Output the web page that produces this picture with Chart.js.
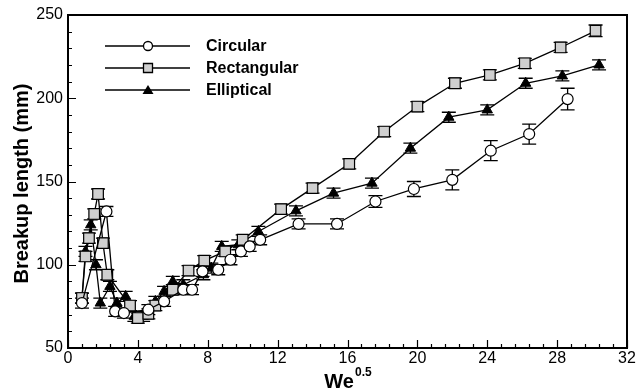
<!DOCTYPE html>
<html>
<head>
<meta charset="utf-8">
<script src="https://cdn.jsdelivr.net/npm/chart.js@4.4.1/dist/chart.umd.min.js"></script>
<style>
  body { margin: 0; background: #fff; }
  #wrap { width: 638px; height: 390px; }
</style>
</head>
<body>
<div id="wrap"><canvas id="breakup_chart" width="638" height="390"></canvas></div>
<script>
// data (x = We^0.5, y = breakup length in mm)
var circX = [0.8, 2.2, 2.7, 3.2, 4.6, 5.5, 6.6, 7.1, 7.7, 8.6, 9.3, 9.9, 10.4, 11.0, 13.2, 15.4, 17.6, 19.8, 22.0, 24.2, 26.4, 28.6];
var circY = [77, 132, 72, 71, 73, 78, 85, 85, 96, 97, 103, 108, 111, 115, 124.5, 124.5, 138, 145.5, 151, 168.5, 178.5, 199.5];
var circErr = [3, 3, 3, 3, 3, 3, 3, 3, 3, 3, 3, 3, 3, 3, 3, 3, 3.5, 4.5, 6, 6, 6, 6.5];

var rectX = [0.8, 1.0, 1.2, 1.5, 1.72, 2.0, 2.25, 3.55, 4.0, 4.6, 5.0, 6.0, 6.9, 7.8, 9.0, 10.0, 12.2, 14.0, 16.1, 18.1, 20.0, 22.15, 24.15, 26.15, 28.2, 30.2];
var rectY = [80, 105, 116, 130.5, 142.5, 113, 94, 75.5, 68, 70.5, 75.5, 85, 96.5, 102.5, 108, 115, 133.4, 146, 160.6, 180, 195, 209, 214, 221, 230.5, 240.5];
var rectErr = [3, 3, 3, 3, 3, 3, 3, 3, 3, 3, 3, 3, 3, 3, 3, 3, 3, 3, 3, 3, 3, 3, 3, 3, 3, 3.5];

var ellX = [0.8, 1.0, 1.3, 1.6, 1.85, 2.4, 2.8, 3.3, 3.8, 4.3, 5.0, 5.5, 6.0, 6.6, 7.75, 8.2, 8.8, 9.75, 10.9, 13.05, 15.2, 17.4, 19.6, 21.8, 24.0, 26.2, 28.3, 30.4];
var ellY = [80, 108, 124, 100, 77, 87, 77, 81, 69, 69, 78, 84, 90, 88, 94, 98, 111, 112, 120, 132.4, 143, 149, 170, 188.6, 193, 209, 213.4, 220];
var ellErr = [3, 3, 3, 3, 3, 3, 3, 3, 3, 3, 3, 3, 3, 3, 3, 3, 3, 3, 3, 3, 3, 3, 3, 3, 3, 3, 3, 3];

var seriesNames = ["Circular", "Rectangular", "Elliptical"];
var xTicks = [0, 4, 8, 12, 16, 20, 24, 28, 32];
var yTicks = [50, 100, 150, 200, 250];

function pts(xs, ys) {
    return xs.map(function (x, i) { return { x: x, y: ys[i] }; });
}

var errs = [circErr, rectErr, ellErr];

var decor = {
    id: 'decor',
    beforeDatasetsDraw: function (chart) {
        var ctx = chart.ctx, xs = chart.scales.x, ys = chart.scales.y;
        ctx.save();
        ctx.strokeStyle = '#000';
        ctx.lineWidth = 1.3;
        chart.data.datasets.forEach(function (ds, di) {
            ds.data.forEach(function (p, i) {
                var e = errs[di][i];
                var px = xs.getPixelForValue(p.x);
                var top = ys.getPixelForValue(p.y + e);
                var bot = ys.getPixelForValue(p.y - e);
                ctx.beginPath();
                ctx.moveTo(px, top); ctx.lineTo(px, bot);
                ctx.moveTo(px - 7, top); ctx.lineTo(px + 7, top);
                ctx.moveTo(px - 7, bot); ctx.lineTo(px + 7, bot);
                ctx.stroke();
            });
        });
        ctx.restore();
    },
    afterDraw: function (chart) {
        var ctx = chart.ctx, a = chart.chartArea, xs = chart.scales.x, ys = chart.scales.y;
        ctx.save();
        // frame
        ctx.strokeStyle = '#000';
        ctx.lineWidth = 2;
        ctx.strokeRect(a.left, a.top, a.right - a.left, a.bottom - a.top);
        // inward ticks
        ctx.lineWidth = 1.2;
        ctx.beginPath();
        for (var v = 0; v <= 32.001; v += 0.8) {
            var px = Math.round(xs.getPixelForValue(v)) + 0.5;
            var major = Math.abs(v / 4 - Math.round(v / 4)) < 0.01;
            ctx.moveTo(px, a.bottom);
            ctx.lineTo(px, a.bottom - (major ? 8 : 4));
        }
        for (var w = 50; w <= 250; w += 10) {
            var py = Math.round(ys.getPixelForValue(w)) + 0.5;
            ctx.moveTo(a.left, py);
            ctx.lineTo(a.left + (w % 50 === 0 ? 8 : 4), py);
        }
        ctx.stroke();

        // legend
        var rows = [46, 68, 90];
        ctx.font = 'bold 16px "Liberation Sans", Arial, sans-serif';
        ctx.textBaseline = 'middle';
        ctx.fillStyle = '#000';
        rows.forEach(function (y, i) {
            ctx.lineWidth = 1.3;
            ctx.strokeStyle = '#000';
            ctx.beginPath();
            ctx.moveTo(105, y); ctx.lineTo(190, y);
            ctx.stroke();
            ctx.beginPath();
            if (i === 0) {
                ctx.arc(148, y, 4.5, 0, Math.PI * 2);
                ctx.fillStyle = '#fff';
                ctx.fill(); ctx.stroke();
            } else if (i === 1) {
                ctx.rect(143.5, y - 4.5, 9, 9);
                ctx.fillStyle = '#d0d0d0';
                ctx.fill(); ctx.stroke();
            } else {
                ctx.moveTo(148, y - 5); ctx.lineTo(153.5, y + 4); ctx.lineTo(142.5, y + 4);
                ctx.closePath();
                ctx.fillStyle = '#000';
                ctx.fill();
            }
            ctx.fillStyle = '#000';
            ctx.textAlign = 'left';
            ctx.fillText(seriesNames[i], 206, y + 1);
        });

        // axis titles
        ctx.font = 'bold 20px "Liberation Sans", Arial, sans-serif';
        ctx.textAlign = 'left';
        ctx.textBaseline = 'alphabetic';
        var wWe = ctx.measureText('We').width;
        ctx.font = 'bold 12px "Liberation Sans", Arial, sans-serif';
        var wSup = ctx.measureText('0.5').width;
        var sx = (a.left + a.right) / 2 - (wWe + wSup) / 2;
        ctx.font = 'bold 20px "Liberation Sans", Arial, sans-serif';
        ctx.fillText('We', sx, 388);
        ctx.font = 'bold 12px "Liberation Sans", Arial, sans-serif';
        ctx.fillText('0.5', sx + wWe + 1, 376);

        ctx.translate(22, (a.top + a.bottom) / 2 + 2);
        ctx.rotate(-Math.PI / 2);
        ctx.font = 'bold 20px "Liberation Sans", Arial, sans-serif';
        ctx.textAlign = 'center';
        ctx.textBaseline = 'middle';
        ctx.fillText('Breakup length (mm)', 0, 0);
        ctx.restore();
    }
};

var tickFont = { family: '"Liberation Sans", Arial, sans-serif', size: 16 };

new Chart(document.getElementById("breakup_chart").getContext("2d"), {
    type: 'line',
    data: {
        datasets: [{
            label: seriesNames[0],
            data: pts(circX, circY),
            borderColor: '#000',
            borderWidth: 1.3,
            pointStyle: 'circle',
            pointRadius: 5.5,
            pointBackgroundColor: '#fff',
            pointBorderColor: '#000',
            pointBorderWidth: 1.2
        }, {
            label: seriesNames[1],
            data: pts(rectX, rectY),
            borderColor: '#000',
            borderWidth: 1.3,
            pointStyle: 'rect',
            pointRadius: 7.5,
            pointBackgroundColor: '#d0d0d0',
            pointBorderColor: '#000',
            pointBorderWidth: 1.2
        }, {
            label: seriesNames[2],
            data: pts(ellX, ellY),
            borderColor: '#000',
            borderWidth: 1.3,
            pointStyle: 'triangle',
            pointRadius: 6,
            pointBackgroundColor: '#000',
            pointBorderColor: '#000',
            pointBorderWidth: 1
        }]
    },
    options: {
        responsive: false,
        animation: false,
        layout: { padding: { top: 15, right: 11, left: 0, bottom: 0 } },
        plugins: { legend: { display: false }, tooltip: { enabled: false } },
        scales: {
            x: {
                type: 'linear',
                min: 0, max: 32,
                afterBuildTicks: function (s) { s.ticks = xTicks.map(function (v) { return { value: v }; }); },
                ticks: { font: tickFont, color: '#000', padding: 1, maxRotation: 0, autoSkip: false },
                grid: { display: false, drawTicks: false },
                border: { display: false },
                afterFit: function (s) { s.height = 42; }
            },
            y: {
                min: 50, max: 250,
                afterBuildTicks: function (s) { s.ticks = yTicks.map(function (v) { return { value: v }; }); },
                ticks: { font: tickFont, color: '#000', padding: 5, autoSkip: false },
                grid: { display: false, drawTicks: false },
                border: { display: false },
                afterFit: function (s) { s.width = 68; }
            }
        }
    },
    plugins: [decor]
});
</script>
</body>
</html>
